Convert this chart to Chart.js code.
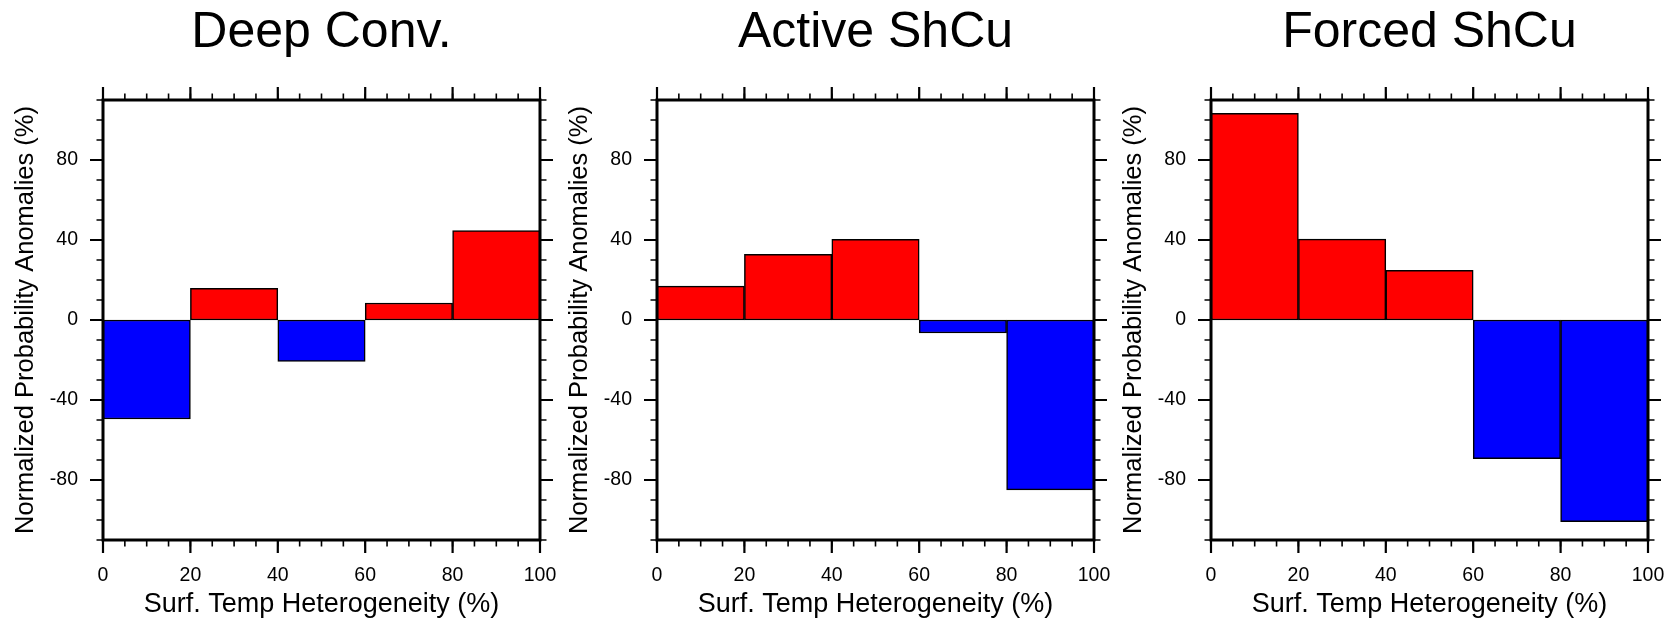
<!DOCTYPE html>
<html><head><meta charset="utf-8">
<script src="https://cdn.jsdelivr.net/npm/chart.js@4.4.1/dist/chart.umd.min.js"></script>
<style>
html,body{margin:0;padding:0;background:#fff;overflow:hidden;width:1675px;height:622px;position:relative}
canvas{position:absolute;top:0}
</style></head><body>
<canvas id="c1" width="560" height="622" style="left:0px"></canvas>
<canvas id="c2" width="560" height="622" style="left:554px"></canvas>
<canvas id="c3" width="560" height="622" style="left:1108px"></canvas>
<script>
// ---- data ----
const panelTitles = ['Deep Conv.', 'Active ShCu', 'Forced ShCu'];
const binCenters = [10, 30, 50, 70, 90];
const deepConv = [-49.5, 15.8, -20.7, 8.5, 44.7];
const activeShCu = [16.9, 32.8, 40.3, -6.5, -84.9];
const forcedShCu = [103.3, 40.4, 24.8, -69.3, -100.8];
const xTickLabels = [0, 20, 40, 60, 80, 100];
const xMinorTicks = [0, 5, 10, 15, 20, 25, 30, 35, 40, 45, 50, 55, 60, 65, 70, 75, 80, 85, 90, 95, 100];
const yTickLabels = [-80, -40, 0, 40, 80];
const yMinorTicks = [-110, -100, -90, -80, -70, -60, -50, -40, -30, -20, -10, 0, 10, 20, 30, 40, 50, 60, 70, 80, 90, 100, 110];
const xTitle = 'Surf. Temp Heterogeneity (%)';
const yTitle = 'Normalized Probability Anomalies (%)';
const xRange = [0, 100];
const yRange = [-110, 110];

const FONT = "'Liberation Sans', Arial, Helvetica, sans-serif";
const POS_COLOR = '#ff0000';
const NEG_COLOR = '#0000ff';

const framePlugin = {
  id: 'frameTicks',
  afterDatasetsDraw(chart) {
    const {ctx, chartArea: a, scales: {x, y}} = chart;
    ctx.save();
    ctx.strokeStyle = '#000';
    ctx.lineCap = 'butt';
    const xt = (vals, len, w) => {
      ctx.lineWidth = w;
      ctx.beginPath();
      vals.forEach(v => {
        const px = x.getPixelForValue(v);
        ctx.moveTo(px, a.bottom); ctx.lineTo(px, a.bottom + len);
        ctx.moveTo(px, a.top); ctx.lineTo(px, a.top - len);
      });
      ctx.stroke();
    };
    const yt = (vals, len, w) => {
      ctx.lineWidth = w;
      ctx.beginPath();
      vals.forEach(v => {
        const py = y.getPixelForValue(v);
        ctx.moveTo(a.left, py); ctx.lineTo(a.left - len, py);
        ctx.moveTo(a.right, py); ctx.lineTo(a.right + len, py);
      });
      ctx.stroke();
    };
    xt(xMinorTicks, 6.5, 1.6);
    xt(xTickLabels, 13, 2.2);
    yt(yMinorTicks, 6.5, 1.6);
    yt(yTickLabels, 13, 2.2);
    ctx.lineWidth = 3;
    ctx.lineJoin = 'miter';
    ctx.strokeRect(a.left, a.top, a.right - a.left, a.bottom - a.top);
    ctx.restore();
  }
};

function zeroPad(s) { s.paddingLeft = 0; s.paddingRight = 0; s.paddingTop = 0; s.paddingBottom = 0; }

function makeChart(id, title, values) {
  const data = binCenters.map((c, i) => ({x: c, y: values[i]}));
  return new Chart(document.getElementById(id), {
    type: 'bar',
    data: {
      datasets: [{
        data: data,
        backgroundColor: values.map(v => v >= 0 ? POS_COLOR : NEG_COLOR),
        borderColor: '#000',
        borderWidth: 1.5,
        borderSkipped: false,
        barPercentage: 1,
        categoryPercentage: 1
      }]
    },
    options: {
      responsive: false,
      animation: false,
      devicePixelRatio: 1,
      layout: {padding: {left: 0, right: 20, top: 0, bottom: 0}},
      plugins: {
        legend: {display: false},
        tooltip: {enabled: false},
        title: {
          display: true,
          text: title,
          fullSize: false,
          color: '#000',
          font: {family: FONT, size: 50, weight: 'normal', lineHeight: 1},
          padding: {top: 8, bottom: 42}
        }
      },
      scales: {
        x: {
          type: 'linear',
          min: xRange[0], max: xRange[1],
          offset: false,
          grid: {display: false, drawTicks: false},
          border: {display: false},
          afterBuildTicks: s => { s.ticks = xTickLabels.map(v => ({value: v})); },
          afterFit: s => { s.height = 82; zeroPad(s); },
          ticks: {color: '#000', font: {family: FONT, size: 19.5}, padding: 24, maxRotation: 0, autoSkip: false},
          title: {display: true, text: xTitle, color: '#000', font: {family: FONT, size: 27, lineHeight: 1}, padding: {top: 0, bottom: 3.5}}
        },
        y: {
          type: 'linear',
          min: yRange[0], max: yRange[1],
          grid: {display: false, drawTicks: false},
          border: {display: false},
          afterBuildTicks: s => { s.ticks = yTickLabels.map(v => ({value: v})); },
          afterFit: s => { s.width = 103; zeroPad(s); },
          ticks: {color: '#000', font: {family: FONT, size: 19.5}, padding: 25},
          title: {display: true, text: yTitle, color: '#000', font: {family: FONT, size: 25.5, lineHeight: 1}, padding: {top: 13.5, bottom: 0}}
        }
      }
    },
    plugins: [framePlugin]
  });
}

makeChart('c1', panelTitles[0], deepConv);
makeChart('c2', panelTitles[1], activeShCu);
makeChart('c3', panelTitles[2], forcedShCu);
</script>
</body></html>
